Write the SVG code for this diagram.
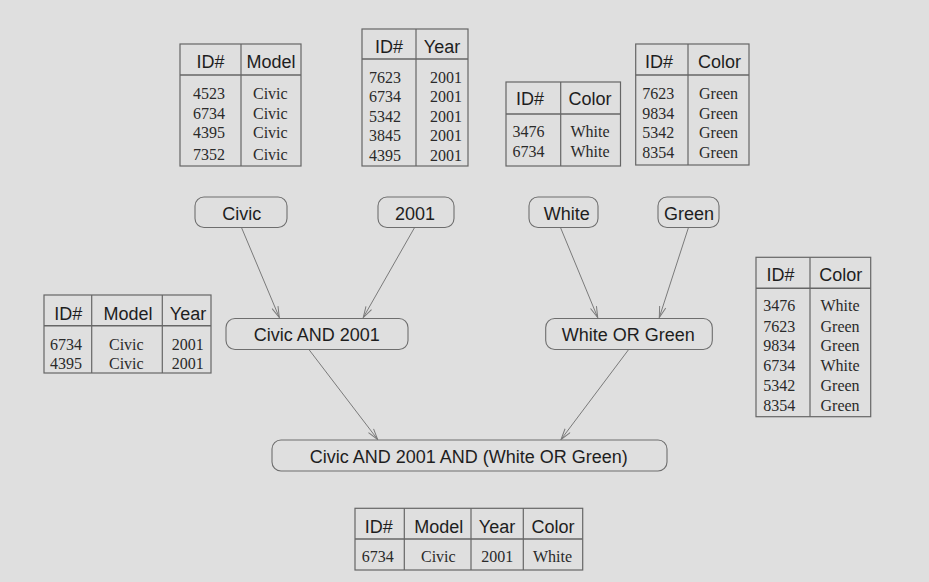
<svg xmlns="http://www.w3.org/2000/svg" width="929" height="582" viewBox="0 0 929 582">
<defs>
<marker id="arr" viewBox="0 0 12 8" refX="11.5" refY="4" markerWidth="12" markerHeight="8" markerUnits="userSpaceOnUse" orient="auto">
<path d="M0.5,0.8 L11.5,4 L0.5,7.2" fill="none" stroke="#7a7a7a" stroke-width="1"/>
</marker>
<style>
.tb{fill:none;stroke:#666;stroke-width:1.2}
.hl{stroke:#666;stroke-width:1.6}
.vl{stroke:#666;stroke-width:1.2}
.h{font-family:"Liberation Sans",Arial,sans-serif;font-size:18px;fill:#1e1e1e;text-anchor:middle}
.c{font-family:"Liberation Serif","Times New Roman",serif;font-size:16px;fill:#2a2a2a}
.m{text-anchor:middle}
.nd{fill:#dfdfdf;stroke:#6e6e6e;stroke-width:1.1}
.nt{font-family:"Liberation Sans",Arial,sans-serif;font-size:18px;fill:#1e1e1e;text-anchor:middle}
.e{stroke:#7a7a7a;stroke-width:1;fill:none;marker-end:url(#arr)}
</style>
</defs>
<rect x="0" y="0" width="929" height="582" fill="#dfdfdf"/>

<g id="table-model">
<rect class="tb" x="180" y="44" width="121" height="122"/>
<line class="hl" x1="180" y1="75" x2="301" y2="75"/>
<line class="vl" x1="241" y1="44" x2="241" y2="166"/>
<text class="h" x="210.5" y="68">ID#</text>
<text class="h" x="271" y="68">Model</text>
<text class="c" x="193" y="99">4523</text><text class="c" x="253" y="99">Civic</text>
<text class="c" x="193" y="119">6734</text><text class="c" x="253" y="119">Civic</text>
<text class="c" x="193" y="138">4395</text><text class="c" x="253" y="138">Civic</text>
<text class="c" x="193" y="160">7352</text><text class="c" x="253" y="160">Civic</text>
</g>

<g id="table-year">
<rect class="tb" x="362" y="29" width="106" height="137"/>
<line class="hl" x1="362" y1="59" x2="468" y2="59"/>
<line class="vl" x1="416" y1="29" x2="416" y2="166"/>
<text class="h" x="389" y="53">ID#</text>
<text class="h" x="442" y="53">Year</text>
<text class="c" x="369" y="83">7623</text><text class="c" x="430" y="83">2001</text>
<text class="c" x="369" y="102">6734</text><text class="c" x="430" y="102">2001</text>
<text class="c" x="369" y="122">5342</text><text class="c" x="430" y="122">2001</text>
<text class="c" x="369" y="141">3845</text><text class="c" x="430" y="141">2001</text>
<text class="c" x="369" y="161">4395</text><text class="c" x="430" y="161">2001</text>
</g>

<g id="table-white">
<rect class="tb" x="506" y="82" width="114.5" height="84"/>
<line class="hl" x1="506" y1="114" x2="620.5" y2="114"/>
<line class="vl" x1="560.7" y1="82" x2="560.7" y2="166"/>
<text class="h" x="530" y="104.5">ID#</text>
<text class="h" x="590" y="104.5">Color</text>
<text class="c" x="512.5" y="137">3476</text><text class="c" x="570.5" y="137">White</text>
<text class="c" x="512.5" y="156.5">6734</text><text class="c" x="570.5" y="156.5">White</text>
</g>

<g id="table-green">
<rect class="tb" x="635.7" y="44" width="113.3" height="121"/>
<line class="hl" x1="635.7" y1="75" x2="749" y2="75"/>
<line class="vl" x1="688" y1="44" x2="688" y2="165"/>
<text class="h" x="659" y="67.5">ID#</text>
<text class="h" x="719.5" y="67.5">Color</text>
<text class="c" x="642.3" y="99">7623</text><text class="c" x="699" y="99">Green</text>
<text class="c" x="642.3" y="119">9834</text><text class="c" x="699" y="119">Green</text>
<text class="c" x="642.3" y="138">5342</text><text class="c" x="699" y="138">Green</text>
<text class="c" x="642.3" y="158">8354</text><text class="c" x="699" y="158">Green</text>
</g>

<g id="table-civic-2001">
<rect class="tb" x="44" y="295" width="167" height="78"/>
<line class="hl" x1="44" y1="325.7" x2="211" y2="325.7"/>
<line class="vl" x1="91.7" y1="295" x2="91.7" y2="373"/>
<line class="vl" x1="162.3" y1="295" x2="162.3" y2="373"/>
<text class="h" x="68.3" y="319.5">ID#</text>
<text class="h" x="128" y="319.5">Model</text>
<text class="h" x="188" y="319.5">Year</text>
<text class="c" x="50" y="350">6734</text><text class="c" x="109" y="350">Civic</text><text class="c" x="171.7" y="350">2001</text>
<text class="c" x="50" y="369">4395</text><text class="c" x="109" y="369">Civic</text><text class="c" x="171.7" y="369">2001</text>
</g>

<g id="table-white-green">
<rect class="tb" x="756" y="257.3" width="114.7" height="159.4"/>
<line class="hl" x1="756" y1="288.3" x2="870.7" y2="288.3"/>
<line class="vl" x1="810" y1="257.3" x2="810" y2="416.7"/>
<text class="h" x="780.5" y="280.5">ID#</text>
<text class="h" x="840.7" y="280.5">Color</text>
<text class="c" x="763.3" y="311">3476</text><text class="c" x="820.5" y="311">White</text>
<text class="c" x="763.3" y="331.5">7623</text><text class="c" x="820.5" y="331.5">Green</text>
<text class="c" x="763.3" y="351">9834</text><text class="c" x="820.5" y="351">Green</text>
<text class="c" x="763.3" y="371">6734</text><text class="c" x="820.5" y="371">White</text>
<text class="c" x="763.3" y="391">5342</text><text class="c" x="820.5" y="391">Green</text>
<text class="c" x="763.3" y="411">8354</text><text class="c" x="820.5" y="411">Green</text>
</g>

<g id="table-result">
<rect class="tb" x="355" y="508.3" width="227.7" height="61.7"/>
<line class="hl" x1="355" y1="539" x2="582.7" y2="539"/>
<line class="vl" x1="404.3" y1="508.3" x2="404.3" y2="570"/>
<line class="vl" x1="471" y1="508.3" x2="471" y2="570"/>
<line class="vl" x1="523.3" y1="508.3" x2="523.3" y2="570"/>
<text class="h" x="378.8" y="532.5">ID#</text>
<text class="h" x="438.7" y="532.5">Model</text>
<text class="h" x="497" y="532.5">Year</text>
<text class="h" x="553" y="532.5">Color</text>
<text class="c m" x="377.7" y="562">6734</text>
<text class="c m" x="438.3" y="562">Civic</text>
<text class="c m" x="497.2" y="562">2001</text>
<text class="c m" x="552.5" y="562">White</text>
</g>

<g id="connectors">
<line class="e" x1="241.7" y1="228" x2="279.3" y2="317.5"/>
<line class="e" x1="414.3" y1="228" x2="363.3" y2="317.5"/>
<line class="e" x1="560.7" y1="228" x2="597.7" y2="317.5"/>
<line class="e" x1="688.3" y1="228" x2="659.3" y2="317.5"/>
<line class="e" x1="309.3" y1="350" x2="377.7" y2="439.5"/>
<line class="e" x1="628.3" y1="350" x2="561" y2="439.5"/>
</g>

<g id="node-civic">
<rect class="nd" x="195" y="197" width="92" height="30.5" rx="9"/>
<text class="nt" x="241.7" y="219.7">Civic</text>
</g>
<g id="node-2001">
<rect class="nd" x="378" y="197" width="76" height="30.5" rx="9"/>
<text class="nt" x="415" y="219.7">2001</text>
</g>
<g id="node-white">
<rect class="nd" x="529" y="197" width="69" height="30.5" rx="9"/>
<text class="nt" x="566.7" y="219.7">White</text>
</g>
<g id="node-green">
<rect class="nd" x="658" y="197" width="61" height="30.5" rx="9"/>
<text class="nt" x="689" y="219.7">Green</text>
</g>
<g id="node-civic-and-2001">
<rect class="nd" x="226" y="318.5" width="182" height="31" rx="9"/>
<text class="nt" x="316.7" y="341.4">Civic AND 2001</text>
</g>
<g id="node-white-or-green">
<rect class="nd" x="545.7" y="318.5" width="166.6" height="31" rx="9"/>
<text class="nt" x="628.3" y="341.4">White OR Green</text>
</g>
<g id="node-final">
<rect class="nd" x="272" y="440" width="395" height="31" rx="9"/>
<text class="nt" x="468.7" y="463.4">Civic AND 2001 AND (White OR Green)</text>
</g>
</svg>
